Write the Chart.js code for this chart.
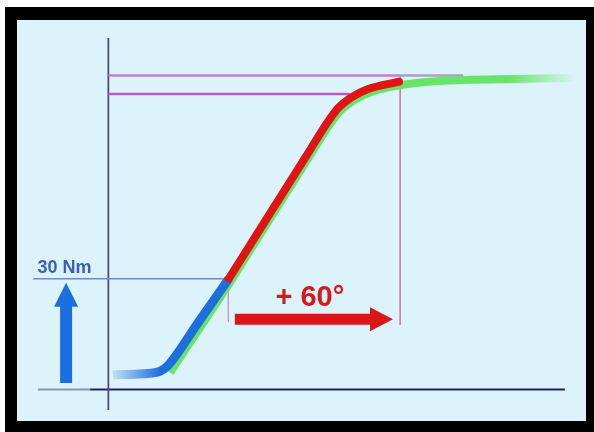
<!DOCTYPE html>
<html><head><meta charset="utf-8">
<script src="https://cdn.jsdelivr.net/npm/chart.js@4"></script>
<style>html,body{margin:0;padding:0;background:#fff}#wrap{width:594px;height:432px;position:relative}</style>
</head><body><div id="wrap"><canvas id="c" width="594" height="432"></canvas></div>
<script>
// Angle (deg, 0 at vertical axis) and torque (Nm)
const blueX = [1.6, 12.0, 18.2, 21.0, 31.5, 42.2];
const blueY = [4.0, 4.3, 5.0, 6.6, 18.2, 30.0];
const redX = [42.2, 51.0, 60.0, 69.0, 77.0, 80.5, 85.0, 91.0, 101.8];
const redY = [30.0, 40.8, 51.8, 62.8, 72.6, 76.2, 79.0, 81.3, 83.3];
const greenX = [21.6, 43.4, 52.2, 61.2, 70.2, 78.2, 81.8, 86.3, 92.3, 102.5, 116.0, 137.0, 164.0];
const greenY = [4.6, 30.0, 40.8, 51.8, 62.8, 72.4, 75.8, 78.4, 80.6, 82.4, 83.5, 84.0, 84.3];
const targetTorque = 30;      // Nm
const upperLimits = [85, 80]; // Nm
const extraAngle = 60;        // deg
const labels = ["30 Nm", "+ 60°"];

const pts = (xs, ys) => xs.map((x, i) => ({x, y: ys[i]}));
const seg = (x0, y0, x1, y1) => [{x: x0, y: y0}, {x: x1, y: y1}];
const endAngle = redX[0] + extraAngle;

function grad(ctx, from, to, c0, c1) {
  const {chart} = ctx;
  if (!chart.chartArea) return c1;
  const x = chart.scales.x;
  const g = chart.ctx.createLinearGradient(x.getPixelForValue(from), 0, x.getPixelForValue(to), 0);
  g.addColorStop(0, c0); g.addColorStop(1, c1);
  return g;
}

const frame = {
  id: 'frame',
  beforeDraw(chart) {
    const c = chart.ctx;
    c.save();
    c.fillStyle = '#ffffff'; c.fillRect(0, 0, 594, 432);
    c.fillStyle = '#000000'; c.fillRect(5, 7, 589, 425);
    c.fillStyle = '#ddf3fb'; c.fillRect(17, 20, 569, 401);
    c.restore();
  },
  afterDatasetsDraw(chart) {
    const c = chart.ctx, X = chart.scales.x, Y = chart.scales.y;
    c.save();
    // blue arrow (torque up)
    const bx = X.getPixelForValue(-14.8), by0 = Y.getPixelForValue(1.8), by1 = Y.getPixelForValue(28.9);
    c.fillStyle = '#1b6fe0';
    c.beginPath();
    c.moveTo(bx - 6, by0); c.lineTo(bx + 6, by0); c.lineTo(bx + 6, by1 + 24);
    c.lineTo(bx + 12, by1 + 24); c.lineTo(bx, by1); c.lineTo(bx - 12, by1 + 24);
    c.lineTo(bx - 6, by1 + 24); c.closePath(); c.fill();
    // red arrow (+60)
    const ry = Y.getPixelForValue(19.0), rx0 = X.getPixelForValue(redX[0] + 2.1), rx1 = X.getPixelForValue(endAngle - 2.5);
    c.fillStyle = '#d81818';
    c.beginPath();
    c.moveTo(rx0, ry - 5.5); c.lineTo(rx1 - 23, ry - 5.5); c.lineTo(rx1 - 23, ry - 12);
    c.lineTo(rx1, ry); c.lineTo(rx1 - 23, ry + 12); c.lineTo(rx1 - 23, ry + 5.5);
    c.lineTo(rx0, ry + 5.5); c.closePath(); c.fill();
    // texts
    c.fillStyle = '#3a60b8';
    c.font = 'bold 18px "Liberation Sans", Arial, sans-serif';
    c.textBaseline = 'alphabetic'; c.textAlign = 'left';
    c.fillText(labels[0], X.getPixelForValue(-24.8), Y.getPixelForValue(targetTorque) - 6);
    c.fillStyle = '#d41a1a';
    c.font = 'bold 29px "Liberation Sans", Arial, sans-serif';
    c.textAlign = 'center';
    c.fillText(labels[1], X.getPixelForValue(70.6), Y.getPixelForValue(22.7));
    c.restore();
  }
};

const lineDs = (data, color, width, extra) => Object.assign({
  data, borderColor: color, borderWidth: width, pointRadius: 0, fill: false,
  tension: 0, clip: false, borderCapStyle: 'butt'
}, extra || {});

new Chart(document.getElementById('c'), {
  type: 'line',
  data: {
    datasets: [
      lineDs(pts(redX, redY), '#e01414', 8, {cubicInterpolationMode: 'monotone', borderCapStyle: 'round', order: 0}),
      lineDs(pts(blueX, blueY), ctx => grad(ctx, blueX[0], blueX[2], 'rgba(30,110,220,0.15)', '#1e6fdc'), 9, {cubicInterpolationMode: 'monotone', order: 1}),
      lineDs(pts(greenX, greenY), ctx => grad(ctx, 140, greenX[greenX.length - 1], 'rgba(96,228,96,0.95)', 'rgba(96,228,96,0)'), 8, {cubicInterpolationMode: 'monotone', order: 2}),
      lineDs(seg(0, upperLimits[0], endAngle, upperLimits[0]), '#c27fd2', 2.5, {order: 3}),
      lineDs(seg(endAngle, upperLimits[0], 124.3, upperLimits[0]), '#a8a0bc', 2.5, {order: 3}),
      lineDs(seg(0, upperLimits[1], 84.5, upperLimits[1]), '#b45cc4', 2.5, {order: 3}),
      lineDs(seg(endAngle, upperLimits[0], endAngle, 17.5), '#c87896', 1.5, {order: 4}),
      lineDs(seg(redX[0] - 0.2, targetTorque, redX[0] - 0.2, 18.3), '#d08aa0', 1.2, {order: 4}),
      lineDs(seg(-26.3, targetTorque, redX[0], targetTorque), '#6b8cc4', 1.5, {order: 4}),
      lineDs(seg(0, 95.1, 0, -5.5), '#4c4c7c', 1.8, {order: 5}),
      lineDs(seg(-24.7, 0, -6.4, 0), '#8a96b0', 2, {order: 5}),
      lineDs(seg(-6.4, 0, 159.9, 0), '#24245c', 2, {order: 5})
    ]
  },
  options: {
    responsive: false, animation: false, devicePixelRatio: 1,
    layout: {padding: {left: 17, top: 20, right: 8, bottom: 11}},
    plugins: {legend: {display: false}, tooltip: {enabled: false}},
    scales: {
      x: {type: 'linear', min: -32, max: 167.3, display: false},
      y: {type: 'linear', min: -8.5, max: 100, display: false}
    }
  },
  plugins: [frame]
});
</script></body></html>
